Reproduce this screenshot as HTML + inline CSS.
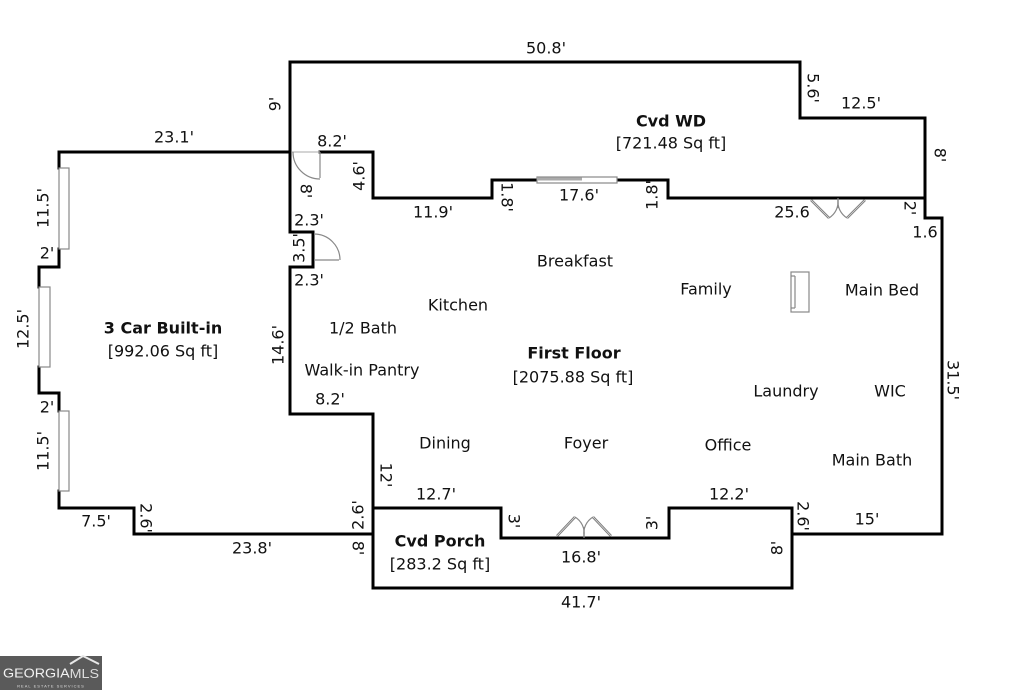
<!DOCTYPE html>
<html><head><meta charset="utf-8"><style>
html,body{margin:0;padding:0;background:#fff;}
svg{display:block;}
text{font-family:"DejaVu Sans","Liberation Sans",sans-serif;font-size:16px;fill:#111;text-anchor:middle;dominant-baseline:central;}
.b{font-weight:bold;}
</style></head><body>
<svg width="1024" height="690" viewBox="0 0 1024 690" xmlns="http://www.w3.org/2000/svg">
<rect width="1024" height="690" fill="#fff"/>
<g fill="none" stroke="#000" stroke-width="3" stroke-linejoin="miter" stroke-linecap="square">
<path d="M800 62 L290 62 L290 232 L313 232 L313 267 L290 267 L290 414 L373 414 L373 588 L792 588 L792 534 L942 534 L942 218 L925 218 L925 118 L800 118 Z"/>
<path d="M373 508 L501 508 L501 538 L669 538 L669 508 L792 508 L792 534"/>
<path d="M320 152 L373 152 L373 198 L492 198 L492 180 L537 180"/>
<path d="M617 180 L668 180 L668 198 L925 198"/>
<path d="M290 152 L59 152 L59 168"/>
<path d="M59 249 L59 267 L39 267 L39 287"/>
<path d="M39 367 L39 393 L59 393 L59 411"/>
<path d="M59 491 L59 508 L134 508 L134 534 L373 534"/>
</g>
<g fill="#fff" stroke="#888" stroke-width="1.2">
<rect x="59" y="168" width="10" height="81"/>
<rect x="39" y="287" width="11" height="80"/>
<rect x="59" y="411" width="10" height="80"/>
<rect x="537" y="177" width="80" height="6"/>
<rect x="537" y="177.5" width="45" height="3" fill="#aaa" stroke="none"/>
<rect x="791" y="272" width="18" height="40"/>
<line x1="795" y1="276" x2="795" y2="308"/>
<line x1="791" y1="276" x2="795" y2="276"/>
<line x1="791" y1="308" x2="795" y2="308"/>
</g>
<g fill="none" stroke="#888" stroke-width="1.2">
<line x1="292" y1="152" x2="320" y2="152" stroke="#bbb"/>
<line x1="320" y1="152" x2="320" y2="178"/>
<path d="M293 152 A27 27 0 0 0 320 179"/>
<line x1="314" y1="260" x2="339" y2="260"/>
<path d="M314 234 A26 26 0 0 1 340 260"/>
<path d="M575 517 A19 19 0 0 1 584 536"/>
<path d="M593 517 A19 19 0 0 0 584 536"/>
<line x1="584" y1="527" x2="584" y2="538"/>
<path d="M829 218 A19 19 0 0 0 838 200"/>
<path d="M847 218 A19 19 0 0 1 838 200"/>
<line x1="838" y1="198" x2="838" y2="208"/>
</g>
<g stroke="#777" stroke-width="2.5" fill="none">
<line x1="557" y1="536" x2="575" y2="517"/>
<line x1="611" y1="536" x2="593" y2="517"/>
<line x1="811" y1="200" x2="829" y2="218"/>
<line x1="865" y1="200" x2="847" y2="218"/>
</g>
<g stroke="#ddd" stroke-width="0.8" fill="none">
<line x1="557" y1="536" x2="575" y2="517"/>
<line x1="611" y1="536" x2="593" y2="517"/>
<line x1="811" y1="200" x2="829" y2="218"/>
<line x1="865" y1="200" x2="847" y2="218"/>
</g>

<!-- room labels -->
<text x="671" y="121" class="b">Cvd WD</text>
<text x="671" y="143">[721.48 Sq ft]</text>
<text x="163" y="328" class="b">3 Car Built-in</text>
<text x="163" y="351">[992.06 Sq ft]</text>
<text x="574" y="353" class="b">First Floor</text>
<text x="573" y="377">[2075.88 Sq ft]</text>
<text x="440" y="541" class="b">Cvd Porch</text>
<text x="440" y="564">[283.2 Sq ft]</text>
<text x="575" y="261">Breakfast</text>
<text x="458" y="305">Kitchen</text>
<text x="363" y="328">1/2 Bath</text>
<text x="362" y="370">Walk-in Pantry</text>
<text x="706" y="289">Family</text>
<text x="882" y="290">Main Bed</text>
<text x="786" y="391">Laundry</text>
<text x="890" y="391">WIC</text>
<text x="872" y="460">Main Bath</text>
<text x="445" y="443">Dining</text>
<text x="586" y="443">Foyer</text>
<text x="728" y="445">Office</text>

<!-- horizontal dims -->
<text x="546" y="48">50.8'</text>
<text x="174" y="137">23.1'</text>
<text x="332" y="141">8.2'</text>
<text x="433" y="212">11.9'</text>
<text x="579" y="195">17.6'</text>
<text x="861" y="103">12.5'</text>
<text x="792" y="212">25.6</text>
<text x="925" y="232">1.6</text>
<text x="309" y="220">2.3'</text>
<text x="309" y="280">2.3'</text>
<text x="330" y="399">8.2'</text>
<text x="47" y="253">2'</text>
<text x="47" y="407">2'</text>
<text x="96" y="521">7.5'</text>
<text x="252" y="548">23.8'</text>
<text x="436" y="494">12.7'</text>
<text x="581" y="557">16.8'</text>
<text x="581" y="602">41.7'</text>
<text x="729" y="494">12.2'</text>
<text x="867" y="519">15'</text>

<!-- vertical dims -->
<text transform="translate(275,104) rotate(-90)">9'</text>
<text transform="translate(359,176) rotate(-90)">4.6'</text>
<text transform="translate(306,191) rotate(90)">8'</text>
<text transform="translate(507,197) rotate(90)">1.8'</text>
<text transform="translate(652,195) rotate(-90)">1.8'</text>
<text transform="translate(813,88) rotate(90)">5.6'</text>
<text transform="translate(940,155) rotate(90)">8'</text>
<text transform="translate(910,208) rotate(90)">2'</text>
<text transform="translate(953,380) rotate(90)">31.5'</text>
<text transform="translate(803,516) rotate(90)">2.6'</text>
<text transform="translate(777,548) rotate(-90)">8'</text>
<text transform="translate(652,523) rotate(-90)">3'</text>
<text transform="translate(514,521) rotate(90)">3'</text>
<text transform="translate(386,475) rotate(90)">12'</text>
<text transform="translate(358,515) rotate(-90)">2.6'</text>
<text transform="translate(358,548) rotate(90)">8'</text>
<text transform="translate(146,518) rotate(90)">2.6'</text>
<text transform="translate(43,451) rotate(-90)">11.5'</text>
<text transform="translate(23,329) rotate(-90)">12.5'</text>
<text transform="translate(43,208) rotate(-90)">11.5'</text>
<text transform="translate(299,248) rotate(-90)">3.5'</text>
<text transform="translate(278,345) rotate(-90)">14.6'</text>

<!-- logo -->
<rect x="0" y="656" width="102" height="34" fill="#5a5a5a"/>
<path d="M70 664 L83 656 L99 664" fill="none" stroke="#e8e8e8" stroke-width="2"/>
<text x="3" y="673" style="text-anchor:start;font-size:13px;fill:#f2f2f2;font-family:'Liberation Sans',sans-serif;" textLength="96" lengthAdjust="spacingAndGlyphs">GEORGIA<tspan style="fill:#dcdcdc">MLS</tspan></text>
<text x="51" y="686" style="font-size:4px;fill:#ddd;letter-spacing:1px;font-family:'Liberation Sans',sans-serif;">REAL ESTATE SERVICES</text>
</svg>
</body></html>
